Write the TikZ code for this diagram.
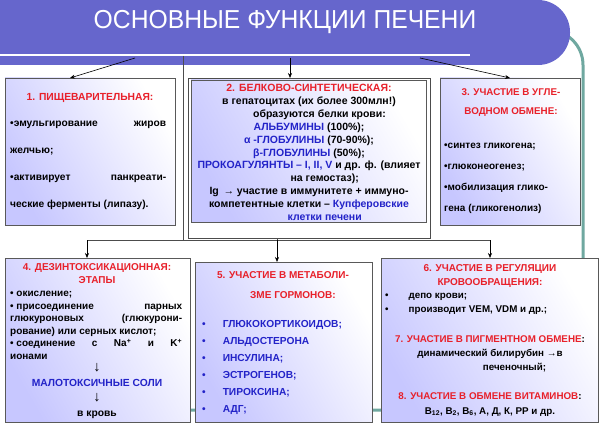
\documentclass[tikz,border=0pt]{standalone}
\usepackage{fontspec}
\setmainfont{Liberation Sans}
\usetikzlibrary{arrows.meta}
\definecolor{ttl}{HTML}{6666CC}
\definecolor{tl}{HTML}{6FA8A0}
\definecolor{rd}{HTML}{E8202A}
\definecolor{bl}{HTML}{2323C8}
\tikzset{
 x=1pt,y=-1pt,
 box/.style={draw=gray!70!black,line width=0.8pt,left color=white,right color=blue!22,shading angle=-60},
 txt/.style={font=\bfseries\fontsize{10.3}{13}\selectfont,align=center,inner sep=0pt},
 arr/.style={-{Stealth[length=5pt,width=4pt]},line width=0.6pt},
 ln/.style={line width=0.6pt,draw=gray!60!black}
}
\begin{document}
\begin{tikzpicture}
\useasboundingbox (0,0) rectangle (600,425);
\fill[white] (0,0) rectangle (600,425);
% teal frame
\draw[tl,line width=3pt,rounded corners=35pt] (556,30) -- (583,30) -- (583,410) -- (8,410) -- (8,280);
% title
\fill[ttl,rounded corners=32pt] (0,0) -- (570,0) -- (570,65) -- (0,65) -- cycle;
\fill[ttl] (0,0) rectangle (300,65);
\draw[white,line width=1.5pt] (0,55) -- (470,55);
\node[font=\fontsize{26}{28}\selectfont,text=white,xscale=0.95] (t) at (285,22) {ОСНОВНЫЕ ФУНКЦИИ ПЕЧЕНИ};
\coordinate (a1) at (135,58); \coordinate (a2) at (290,58); \coordinate (a3) at (420,58);
% frame of box2
\draw[ln] (183,56) -- (183,240);
\draw[ln,fill=white] (188,78) rectangle (430,238);
% boxes
\draw[box] (5,78) rectangle (175,225);
\draw[box] (191,80) rectangle (426,222);
\draw[box] (440,78) rectangle (580,225);
\draw[box] (5,258) rectangle (190,422);
\draw[box] (195,262) rectangle (372,422);
\draw[box] (381,258) rectangle (598,422);
% box1 text
\node[txt,text=rd,anchor=north] (h1) at (90,93) {1. ПИЩЕВАРИТЕЛЬНАЯ:};
\node[txt,anchor=north west,text width=156pt,align=justify,font=\bfseries\fontsize{10.2}{27}\selectfont] (x1) at (10,121)
 {•эмульгирование\hfill жиров\\ желчью;\\ •активирует\hfill панкреати-\\ ческие ферменты (липазу).};
% box2 text
\node[txt,anchor=north,font=\bfseries\fontsize{10.5}{12.9}\selectfont] (x2) at (309,84) {%
\textcolor{rd}{2. БЕЛКОВО-СИНТЕТИЧЕСКАЯ:}\\
в гепатоцитах (их более 300млн!)\\
\hspace{2em}образуются белки крови:\\
\textcolor{bl}{АЛЬБУМИНЫ} (100\%);\\
\textcolor{bl}{α -ГЛОБУЛИНЫ} (70-90\%);\\
\textcolor{bl}{β-ГЛОБУЛИНЫ} (50\%);\\
\textcolor{bl}{ПРОКОАГУЛЯНТЫ – I, II, V} и др. ф. (влияет\\
\hspace{3em}на гемостаз);\\
Ig \,→ участие в иммунитете + иммуно-\\
компетентные клетки – \textcolor{bl}{Купферовские}\\
\hspace{3em}\textcolor{bl}{клетки печени}};
% box3 text
\node[txt,text=rd,anchor=north,font=\bfseries\fontsize{9.8}{19}\selectfont] (h3) at (511,88) {3. УЧАСТИЕ В УГЛЕ-\\ ВОДНОМ ОБМЕНЕ:};
\node[txt,anchor=north west,align=left,font=\bfseries\fontsize{10}{21}\selectfont] (x3) at (444,143) {•синтез гликогена;\\ •глюконеогенез;\\ •мобилизация глико-\\ гена (гликогенолиз)};
% box4 text
\node[txt,text=rd,anchor=north,font=\bfseries\fontsize{10}{13}\selectfont] (h4) at (97,263) {4. ДЕЗИНТОКСИКАЦИОННАЯ:\\ ЭТАПЫ};
\node[txt,anchor=north west,text width=172pt,align=justify,font=\bfseries\fontsize{10}{12.6}\selectfont] (x4) at (10,291)
 {• окисление;\\ • присоединение\hfill парных\\ глюкуроновых\hfill (глюкурони-\\ рование) или серных кислот;\\ • соединение\hfill с\hfill Na\textsuperscript{+}\hfill и\hfill K\textsuperscript{+}\\ ионами};
\node[txt,anchor=north,font=\bfseries\fontsize{10.3}{15}\selectfont] (x4b) at (97,363) {{\Large ↓}\\ \textcolor{bl}{МАЛОТОКСИЧНЫЕ СОЛИ}\\ {\Large ↓}\\ в кровь};
% box5
\node[txt,text=rd,anchor=north,font=\bfseries\fontsize{10}{20}\selectfont] (h5) at (283,271) {5. УЧАСТИЕ В МЕТАБОЛИ-\\ \hspace{2em}ЗМЕ ГОРМОНОВ:};
\node[txt,anchor=north west,align=left,text=bl,font=\bfseries\fontsize{10.2}{17}\selectfont] (x5) at (202,320)
 {•\hspace{17pt}ГЛЮКОКОРТИКОИДОВ;\\ •\hspace{17pt}АЛЬДОСТЕРОНА\\ •\hspace{17pt}ИНСУЛИНА;\\ •\hspace{17pt}ЭСТРОГЕНОВ;\\ •\hspace{17pt}ТИРОКСИНА;\\ •\hspace{17pt}АДГ;};
% box6
\node[txt,text=rd,anchor=north,font=\bfseries\fontsize{10}{14.5}\selectfont] (h6) at (490,264) {6. УЧАСТИЕ В РЕГУЛЯЦИИ\\ КРОВООБРАЩЕНИЯ:};
\node[txt,anchor=north west,align=left,font=\bfseries\fontsize{9.8}{14}\selectfont] (x6) at (385,293) {•\hspace{20pt}депо крови;\\ •\hspace{20pt}производит VEM, VDM и др.;};
\node[txt,anchor=north,font=\bfseries\fontsize{9.8}{14}\selectfont] (x7) at (490,335) {\textcolor{rd}{7. УЧАСТИЕ В ПИГМЕНТНОМ ОБМЕНЕ}:\\ динамический билирубин →в\\ \hspace{5em}печеночный;};
\node[txt,anchor=north,font=\bfseries\fontsize{9.8}{15}\selectfont] (x8) at (490,392) {\textcolor{rd}{8. УЧАСТИЕ В ОБМЕНЕ ВИТАМИНОВ}:\\ B\textsubscript{12}, B\textsubscript{2}, B\textsubscript{6}, А, Д, К, РР и др.};
% connectors
\coordinate (e1) at (70,78); \coordinate (e2) at (290,78); \coordinate (e3) at (510,78);
\draw[arr] (a1) -- (e1); \draw[arr] (a2) -- (e2); \draw[arr] (a3) -- (e3);
\coordinate (hl) at (87,240); \coordinate (hr) at (490,240);
\draw[ln] (hl) -- (hr); \draw[ln] (277,238) -- (277,240);
\coordinate (d4) at (87,258); \coordinate (d5) at (277,262); \coordinate (d6) at (490,258);
\draw[arr] (hl) -- (d4); \draw[arr] (277,240) -- (d5); \draw[arr] (hr) -- (d6);
\end{tikzpicture}
\end{document}
